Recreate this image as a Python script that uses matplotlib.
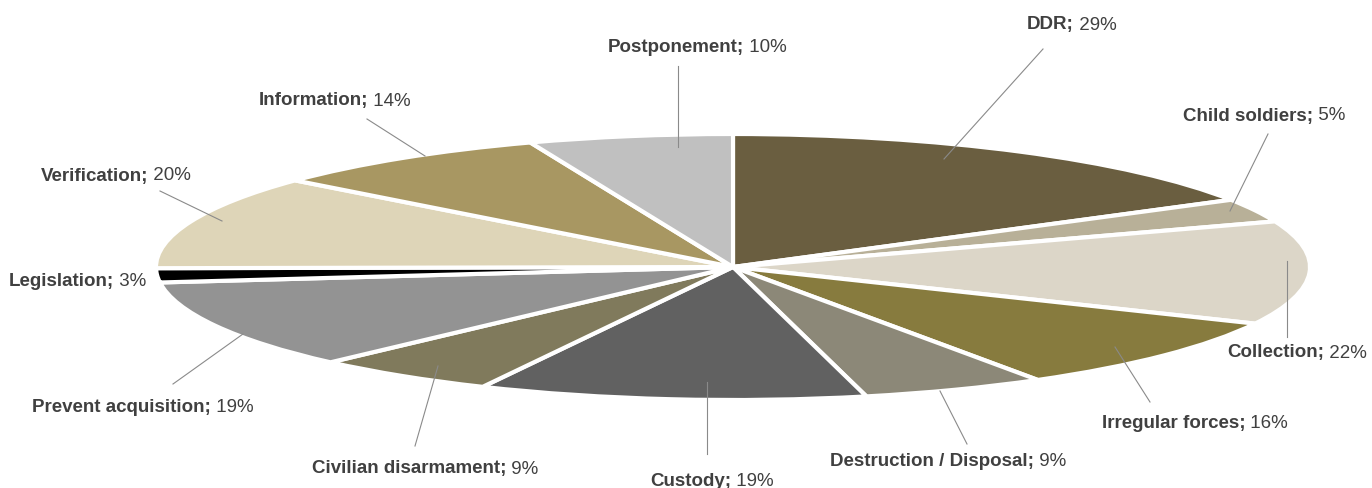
import matplotlib
matplotlib.use("Agg")
import matplotlib.pyplot as plt
from matplotlib import font_manager

names = ["DDR", "Child soldiers", "Collection", "Irregular forces",
         "Destruction / Disposal", "Custody", "Civilian disarmament",
         "Prevent acquisition", "Legislation", "Verification",
         "Information", "Postponement"]
values = [29, 5, 22, 16, 9, 19, 9, 19, 3, 20, 14, 10]
colors = ["#6a5e40", "#b8b098", "#dcd6c8", "#877b3e", "#8c8878", "#616161",
          "#807a5c", "#939393", "#000000", "#ded5b8", "#a89762", "#c0c0c0"]

# label layout in pixels: text centre, leader line start (on slice), end (near text)
label_pos = [(1072, 25), (1264, 116), (1297, 353), (1195, 423), (948, 461),
             (712, 481), (425, 469), (143, 407), (78, 281), (116, 176),
             (335, 101), (697, 48)]
leaders = [((944, 160), (1043, 50)), ((1230, 212), (1268, 135)),
           ((1287, 262), (1287, 338)), ((1115, 348), (1150, 403)),
           ((940, 392), (967, 445)), ((707, 383), (707, 455)),
           ((438, 367), (415, 447)), ((243, 335), (173, 385)),
           None, ((222, 222), (160, 192)),
           ((425, 157), (367, 120)), ((678, 148), (678, 67))]

W, H = 1372, 489
cx, cy, rx, ry = 733, 268, 577, 133

fams = set(f.name for f in font_manager.fontManager.ttflist)
fam = "Liberation Sans Narrow" if "Liberation Sans Narrow" in fams else "Liberation Sans"

fig = plt.figure(figsize=(W / 100, H / 100), dpi=100)
ax = fig.add_axes([0, 0, 1, 1])
ax.pie(values, colors=colors, startangle=90, counterclock=False,
       wedgeprops=dict(edgecolor="white", linewidth=3))
ax.set_aspect("auto")
ax.set_xlim(-cx / rx, (W - cx) / rx)
ax.set_ylim(-(H - cy) / ry, cy / ry)
ax.axis("off")

lab = fig.add_axes([0, 0, 1, 1], facecolor="none")
lab.set_xlim(0, W)
lab.set_ylim(H, 0)
lab.axis("off")

fig.canvas.draw()
r = fig.canvas.get_renderer()
fs = 13.5
for n, v, (tx, ty), ld in zip(names, values, label_pos, leaders):
    if ld is not None:
        lab.plot([ld[0][0], ld[1][0]], [ld[0][1], ld[1][1]], color="#8a8a8a", lw=0.8)
    t1 = lab.text(0, ty, n + ";", fontsize=fs, family=fam, weight="bold",
                  color="#404040", va="center", ha="left")
    t2 = lab.text(0, ty, f" {v}%", fontsize=fs, family=fam,
                  color="#404040", va="center", ha="left")
    w1 = t1.get_window_extent(r).width
    w2 = t2.get_window_extent(r).width
    x0 = tx - (w1 + w2) / 2
    t1.set_x(x0)
    t2.set_x(x0 + w1)

fig.savefig("out.png", dpi=100)
